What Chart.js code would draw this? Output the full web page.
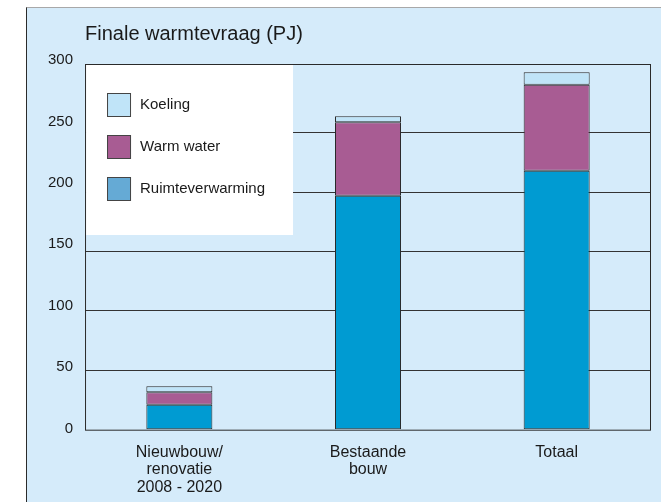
<!DOCTYPE html>
<html>
<head>
<meta charset="utf-8">
<script src="https://cdn.jsdelivr.net/npm/chart.js@4.4.0/dist/chart.umd.min.js"></script>
<style>
  body { margin: 0; background: #fff; }
  #panel {
    position: absolute; left: 26px; top: 7px; width: 635px; height: 495px;
    box-sizing: border-box; background: #d5ebfa;
    border-left: 1px solid #2b2b2b; border-top: 1px solid #a8a8a8;
  }
  #c { position: absolute; left: 0; top: 0; }
</style>
</head>
<body>
<div id="panel"></div>
<canvas id="c" width="661" height="502"></canvas>
<script>
const categories = [['Nieuwbouw/', 'renovatie', '2008 - 2020'], ['Bestaande', 'bouw'], ['Totaal']]
const ruimteverwarming = [21, 197, 218]
const warmWater = [10.5, 62, 72.5]
const koeling = [5, 5, 10.5]
const yTicks = [0, 50, 100, 150, 200, 250, 300]

const FONT = "'Liberation Sans', Arial, sans-serif"
Chart.defaults.font.family = FONT
Chart.defaults.color = '#1a1a1a'

// legend sits inside the plot, on a white box that hides the grid lines
const boxLegend = {
  id: 'boxLegend',
  beforeDatasetsDraw(chart) {
    const { ctx, chartArea } = chart
    ctx.save()
    ctx.fillStyle = '#fff'
    ctx.fillRect(chartArea.left + 1, chartArea.top + 1, 207, 170)
    const sets = chart.data.datasets.slice().reverse()
    sets.forEach((ds, i) => {
      const y = chartArea.top + 29 + i * 42
      ctx.fillStyle = ds.legendColor
      ctx.fillRect(chartArea.left + 22, y, 24, 24)
      ctx.strokeStyle = '#444'
      ctx.lineWidth = 1
      ctx.strokeRect(chartArea.left + 22.5, y + 0.5, 23, 23)
      ctx.fillStyle = '#1a1a1a'
      ctx.font = '15px ' + FONT
      ctx.textBaseline = 'middle'
      ctx.fillText(ds.label, chartArea.left + 55, y + 12)
    })
    ctx.restore()
  },
  afterDraw(chart) {
    const { ctx, chartArea } = chart
    ctx.save()
    ctx.strokeStyle = '#2a2a2a'
    ctx.lineWidth = 1
    ctx.strokeRect(chartArea.left + 0.5, chartArea.top + 0.5, chartArea.right - chartArea.left - 1, chartArea.bottom - chartArea.top)
    ctx.restore()
  }
}

new Chart(document.getElementById('c'), {
  type: 'bar',
  data: {
    labels: categories,
    datasets: [
      { label: 'Ruimteverwarming', data: ruimteverwarming, backgroundColor: '#009bd2', legendColor: '#65aad5' },
      { label: 'Warm water', data: warmWater, backgroundColor: '#a85c93', legendColor: '#a85c93' },
      { label: 'Koeling', data: koeling, backgroundColor: '#c0e4f8', legendColor: '#c0e4f8' },
    ],
  },
  options: {
    responsive: false,
    animation: false,
    layout: { padding: { top: 14, left: 36, right: 10, bottom: -8 } },
    datasets: {
      bar: {
        categoryPercentage: 1,
        barPercentage: 0.35,
        borderColor: '#2a2a2a',
        borderWidth: 1,
        borderSkipped: false,
      },
    },
    scales: {
      x: {
        stacked: true,
        grid: { display: false, drawTicks: false },
        border: { display: false },
        ticks: { padding: 14, font: { size: 16, lineHeight: 1.09 }, maxRotation: 0 },
      },
      y: {
        stacked: true,
        min: 0,
        max: 308,
        position: 'left',
        border: { display: false },
        grid: {
          drawTicks: false,
          color: (c) => (c.tick && (c.tick.value === 0 || c.tick.value === 300)) ? 'rgba(0,0,0,0)' : '#333',
        },
        ticks: { display: false, stepSize: 50 },
      },
      // tick labels of the original sit on a slightly different spacing than its grid lines
      yl: {
        position: 'left',
        min: -0.813,
        max: 296.75,
        border: { display: false },
        grid: { display: false, drawTicks: false },
        afterBuildTicks: (scale) => { scale.ticks = yTicks.map((v) => ({ value: v })) },
        ticks: { padding: 12, autoSkip: false, font: { size: 15 }, callback: (v) => String(v) },
      },
    },
    plugins: {
      legend: { display: false },
      tooltip: { enabled: false },
      title: {
        display: true,
        text: 'Finale warmtevraag (PJ)',
        align: 'start',
        fullSize: false,
        color: '#1a1a1a',
        font: { size: 20, weight: 'normal' },
        padding: { top: 8, bottom: 18 },
      },
    },
  },
  plugins: [boxLegend],
})
</script>
</body>
</html>
